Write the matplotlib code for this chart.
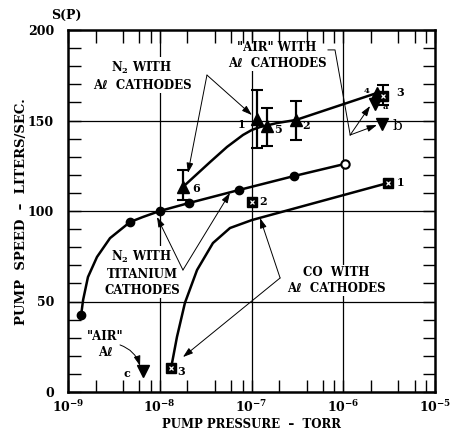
import matplotlib
matplotlib.use("Agg")
import matplotlib.pyplot as plt
from matplotlib.ticker import FixedLocator, NullFormatter

plt.rcParams['font.family'] = ['DejaVu Serif', 'DejaVu Sans']
plt.rcParams['font.weight'] = 'bold'
plt.rcParams['mathtext.fontset'] = 'dejavuserif'
plt.rcParams['mathtext.default'] = 'bf'

# N2 with titanium cathodes (circles, the last one open)
ti_p = [1.39e-9, 4.74e-9, 1.0e-8, 2.08e-8, 7.3e-8, 2.9e-7, 1.04e-6]
ti_s = [42.5, 93.9, 100.0, 104.4, 111.6, 119.3, 126.0]
# hand drawn curve through them
ti_line_p = [1.39e-9, 1.46e-9, 1.65e-9, 2.07e-9, 2.87e-9, 4.74e-9, 6.56e-9,
             1.0e-8, 2.08e-8, 7.3e-8, 2.9e-7, 1.04e-6]
ti_line_s = [42.5, 50.8, 63.5, 74.6, 85.0, 93.9, 96.7,
             100.0, 104.4, 111.6, 119.3, 126.0]

# CO with Al cathodes (boxed squares)
co_p = [3.08e-6, 1.01e-7, 1.33e-8]
co_s = [115.5, 105.0, 13.3]
co_labels = ['1', '2', '3']
co_line_p = [1.33e-8, 1.54e-8, 1.88e-8, 2.55e-8, 3.8e-8, 5.83e-8, 1.01e-7, 3.08e-6]
co_line_s = [13.3, 30.4, 49.2, 67.4, 82.3, 90.6, 95.0, 115.5]

# N2 with Al cathodes (triangles with spread bars)
al_p = [1.79e-8, 1.15e-7, 1.48e-7, 3.05e-7, 2.33e-6]
al_s = [113.3, 150.8, 147.0, 150.3, 165.2]
al_lo = [106.0, 135.0, 136.0, 139.0, None]
al_hi = [122.6, 167.0, 157.0, 161.0, None]
al_labels = ['6', '1', '5', '2', '4']
al_line_p = [1.79e-8, 3.53e-8, 5.41e-8, 8.07e-8, 1.01e-7, 1.24e-7, 1.9e-7, 3.05e-7, 2.33e-6]
al_line_s = [113.3, 127.0, 135.4, 142.0, 144.8, 146.4, 148.6, 150.3, 165.2]
# point 3 of the same run, drawn as a box
al3_p, al3_s, al3_lo, al3_hi = 2.71e-6, 163.5, 158.6, 169.6

# "AIR" with Al cathodes (inverted triangles)
air_p = [2.22e-6, 2.64e-6, 6.56e-9]
air_s = [159.0, 148.0, 11.6]

decades = [1e-9, 1e-8, 1e-7, 1e-6, 1e-5]
dec_labels = [r'$10^{-9}$', r'$10^{-8}$', r'$10^{-7}$', r'$10^{-6}$', r'$10^{-5}$']
minor_x = [k * d for d in decades[:-1] for k in (2, 4, 6, 8)]
y_major = [0, 50, 100, 150, 200]


fig = plt.figure(figsize=(4.56, 4.41), dpi=100)
ax = fig.add_axes([68 / 456, 49 / 441, 367 / 456, 362 / 441])
ax.set_xscale('log')
ax.set_xlim(1e-9, 1e-5)
ax.set_ylim(0, 200)

for d in decades[1:-1]:
    ax.axvline(d, color='k', lw=0.9, zorder=1)
for v in y_major[1:-1]:
    ax.axhline(v, color='k', lw=0.9, zorder=1)

# curves
ax.plot(ti_line_p, ti_line_s, color='k', lw=1.8, zorder=2)
ax.plot(co_line_p, co_line_s, color='k', lw=1.8, zorder=2)
ax.plot(al_line_p, al_line_s, color='k', lw=1.8, zorder=2)

# markers
ax.plot(ti_p[:-1], ti_s[:-1], 'o', color='k', ms=6, zorder=4)
ax.plot(ti_p[-1:], ti_s[-1:], 'o', mfc='white', mec='k', mew=1.5, ms=6, zorder=4)

ax.plot(co_p, co_s, 's', color='k', ms=7, zorder=4)
ax.plot(co_p, co_s, 'x', color='white', ms=3.5, mew=0.9, zorder=5)

for p, s, lo, hi in zip(al_p, al_s, al_lo, al_hi):
    if lo is not None:
        ax.errorbar([p], [s], yerr=[[s - lo], [hi - s]], fmt='none', ecolor='k',
                    elinewidth=1.6, capsize=4, capthick=1.5, zorder=3)
ax.plot(al_p, al_s, '^', color='k', ms=8, zorder=4)
ax.errorbar([al3_p], [al3_s], yerr=[[al3_s - al3_lo], [al3_hi - al3_s]], fmt='none',
            ecolor='k', elinewidth=1.5, capsize=4, capthick=1.5, zorder=3)
ax.plot([al3_p], [al3_s], 's', color='k', ms=7, zorder=4)
ax.plot([al3_p], [al3_s], 'x', color='white', ms=3.5, mew=0.9, zorder=5)

ax.plot(air_p, air_s, 'v', color='k', ms=8, zorder=4)

# point numbers
num = dict(fontsize=8, ha='center', va='center', zorder=6)
ax.text(2.48e-8, 112.7, al_labels[0], **num)
ax.text(7.87e-8, 148.0, al_labels[1], **num)
ax.text(1.95e-7, 144.8, al_labels[2], **num)
ax.text(3.93e-7, 147.0, al_labels[3], **num)
ax.text(1.82e-6, 166.5, al_labels[4], fontsize=6, ha='center', va='center')
ax.text(4.16e-6, 165.2, '3', **num)
ax.text(2.85e-6, 157.3, 'a', fontsize=6, ha='center', va='center')
ax.text(3.86e-6, 147.0, 'b', fontsize=11, fontweight='normal', ha='center', va='center')
ax.text(4.4e-9, 10.0, 'c', **num)
ax.text(1.33e-7, 105.0, co_labels[1], **num)
ax.text(1.71e-8, 11.6, co_labels[2], **num)
ax.text(4.26e-6, 115.5, co_labels[0], **num)

# captions (white box hides the grid, but sits under the curves)
box = dict(facecolor='white', edgecolor='none', pad=1)
cap = dict(fontsize=8.5, ha='center', va='center', linespacing=1.3, bbox=box, zorder=1.5)
ax.text(6.4e-9, 174.6, 'N$_2$ WITH\nAℓ  CATHODES', **cap)
ax.text(1.9e-7, 185.9, '"AIR" WITH\nAℓ  CATHODES', **cap)
ax.text(6.4e-9, 66.0, 'N$_2$ WITH\nTITANIUM\nCATHODES', **cap)
ax.text(8.34e-7, 61.6, 'CO  WITH\nAℓ  CATHODES', **cap)
ax.text(2.53e-9, 26.0, '"AIR"\nAℓ', **cap)

arr = dict(arrowstyle='-|>,head_length=0.6,head_width=0.2', lw=0.7, color='k',
           shrinkA=0, shrinkB=0)


def arrow(tip, tail, **kw):
    props = dict(arr)
    props.update(kw)
    ax.annotate('', xy=tip, xytext=tail, arrowprops=props, zorder=5)


# N2 with Al
arrow((2.03e-8, 121.0), (3.27e-8, 175.1))
arrow((1.01e-7, 153.0), (3.27e-8, 175.1))
# AIR with Al
ax.plot([6.82e-7, 8.13e-7, 1.19e-6], [189.0, 189.0, 142.0], color='k', lw=0.7, zorder=5)
arrow((1.96e-6, 158.0), (1.19e-6, 142.0))
arrow((2.33e-6, 147.5), (1.19e-6, 142.0))
# N2 with titanium
arrow((9.33e-9, 96.7), (1.79e-8, 67.4))
arrow((5.83e-8, 110.0), (1.79e-8, 67.4))
# CO with Al
arrow((1.24e-7, 96.1), (2.05e-7, 63.0))
arrow((1.79e-8, 19.3), (2.05e-7, 63.0))
# AIR Al, point c
arrow((6.1e-9, 14.4), (3.69e-9, 26.0), connectionstyle='arc3,rad=-0.25')

# axes dressing
for sp in ax.spines.values():
    sp.set_linewidth(1.8)
ax.set_xticks(decades)
ax.set_xticklabels(dec_labels, fontsize=9)
ax.xaxis.set_minor_locator(FixedLocator(minor_x))
ax.xaxis.set_minor_formatter(NullFormatter())
ax.set_yticks(y_major)
ax.set_yticklabels([str(v) for v in y_major], fontsize=9)
ax.yaxis.set_minor_locator(FixedLocator(list(range(10, 200, 10))))
ax.tick_params(which='both', direction='in', top=True, right=True, width=1.0)
ax.tick_params(which='major', length=9)
ax.tick_params(which='minor', length=9)
ax.tick_params(axis='x', which='major', pad=5)
ax.tick_params(axis='y', which='major', pad=10)

fig.text(66 / 456, 1 - 15 / 441, 'S(P)', fontsize=9, ha='center', va='center')
fig.text(22 / 456, 1 - 212 / 441, 'PUMP  SPEED  –  LITERS/SEC.', fontsize=9.5,
         rotation=90, ha='center', va='center')
fig.text(252 / 456, 1 - 425 / 441, 'PUMP PRESSURE  –  TORR', fontsize=8.5,
         ha='center', va='center')

fig.savefig('out.png', dpi=100)
